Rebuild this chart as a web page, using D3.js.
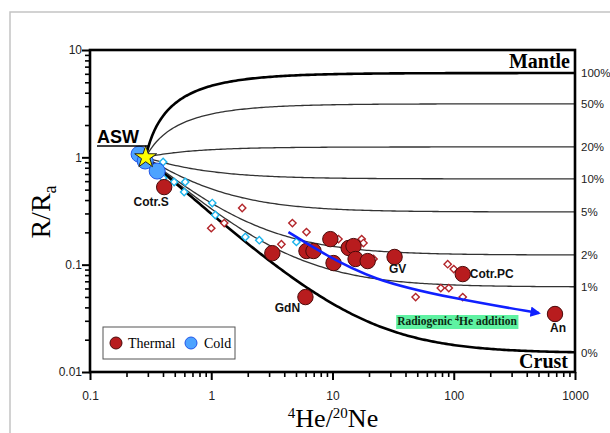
<!DOCTYPE html>
<html>
<head>
<meta charset="utf-8">
<title>R/Ra vs 4He/20Ne</title>
<style>
body { margin: 0; background: #fff; }
svg { display: block; }
.tick text { font-family: "Liberation Sans", Arial, sans-serif; font-size: 12px; fill: #222; }
.lbl { font-family: "Liberation Sans", Arial, sans-serif; font-weight: bold; font-size: 12px; fill: #111; }
.serif { font-family: "Liberation Serif", "Times New Roman", serif; }
</style>
</head>
<body>
<script src="https://cdn.jsdelivr.net/npm/d3@7"></script>
<script>
// ASW end-member
var aswX = 0.288, aswR = 1;

// mixing lines: R/Ra of the radiogenic end-member (mantle share)
var mixEnd = [6.1, 3.15, 1.25, 0.63, 0.31, 0.123, 0.062, 0.015];
var mixLabels = ["100%", "50%", "20%", "10%", "5%", "2%", "1%", "0%"];

// thermal waters (red circles)
var thermX = [0.409, 3.19, 5.98, 6.1, 6.97, 9.6, 10.2, 13.6, 14.9, 15.5, 19.5, 32.5, 118.6, 684];
var thermR = [0.528, 0.128, 0.0499, 0.134, 0.134, 0.173, 0.1035, 0.143, 0.149, 0.113, 0.108, 0.118, 0.0817, 0.0347];
var thermName = ["Cotr.S", "", "GdN", "", "", "", "", "", "", "", "", "GV", "Cotr.PC", "An"];

// cold waters (blue circles)
var coldX = [0.254, 0.285, 0.358];
var coldR = [1.07, 0.924, 0.745];

// literature data, cold (cyan diamonds)
var litColdX = [0.401, 0.401, 0.494, 0.61, 0.598, 1.02, 1.08, 1.91, 2.49, 5.04];
var litColdR = [0.904, 0.641, 0.589, 0.589, 0.475, 0.375, 0.29, 0.181, 0.169, 0.163];

// literature data, thermal (red diamonds)
var litThermX = [1.8, 1.0, 1.28, 4.67, 6.1, 3.79, 11.2, 17.4, 18.0, 21.8, 89.1, 100, 78.2, 91.0, 48.5, 118.6];
var litThermR = [0.337, 0.219, 0.244, 0.244, 0.201, 0.155, 0.173, 0.173, 0.159, 0.113, 0.101, 0.091, 0.0605, 0.0605, 0.0499, 0.0499];

// radiogenic 4He arrow
var arrowX = [4.33, 7.96, 21.4, 94.4, 503];
var arrowR = [0.201, 0.131, 0.0718, 0.0489, 0.0354];

var xTicks = [0.1, 1, 10, 100, 1000];
var xTickLabels = ["0.1", "1", "10", "100", "1000"];
var yTicks = [0.01, 0.1, 1, 10];
var yTickLabels = ["0.01", "0.1", "1", "10"];

var width = 610, height = 433;
var plotLeft = 90, plotRight = 575, plotTop = 50, plotBottom = 372;

var svg = d3.select("body").append("svg")
    .attr("width", width)
    .attr("height", height);

// grey outer frame
svg.append("rect")
    .attr("x", 10).attr("y", 12)
    .attr("width", 620).attr("height", 440)
    .attr("fill", "none")
    .attr("stroke", "#c4c4c4")
    .attr("stroke-width", 1.5);

var x = d3.scaleLog().domain([0.1, 1000]).range([plotLeft, plotRight]);
var y = d3.scaleLog().domain([0.01, 10]).range([plotBottom, plotTop]);

function minors(lo, hi) {
  var out = [];
  for (var e = lo; e < hi; e++) {
    for (var k = 2; k <= 9; k++) out.push(k * Math.pow(10, e));
  }
  return out;
}

// minor ticks
svg.append("g")
    .attr("transform", "translate(0," + plotBottom + ")")
    .call(d3.axisBottom(x).tickValues(minors(-1, 3)).tickSize(5).tickSizeOuter(0).tickFormat(""))
    .call(function(g) { g.select(".domain").remove(); })
    .selectAll("line").attr("stroke", "#000").attr("stroke-width", 1.6);

svg.append("g")
    .attr("transform", "translate(" + plotLeft + ",0)")
    .call(d3.axisLeft(y).tickValues(minors(-2, 1)).tickSize(5).tickSizeOuter(0).tickFormat(""))
    .call(function(g) { g.select(".domain").remove(); })
    .selectAll("line").attr("stroke", "#000").attr("stroke-width", 1.6);

// major ticks + labels
var xAxis = svg.append("g")
    .attr("transform", "translate(0," + plotBottom + ")")
    .call(d3.axisBottom(x).tickValues(xTicks).tickSize(8).tickSizeOuter(0).tickPadding(11)
      .tickFormat(function(d, i) { return xTickLabels[i]; }));
xAxis.select(".domain").remove();
xAxis.selectAll("line").attr("stroke", "#000").attr("stroke-width", 2);

var yAxis = svg.append("g")
    .attr("transform", "translate(" + plotLeft + ",0)")
    .call(d3.axisLeft(y).tickValues(yTicks).tickSize(8).tickSizeOuter(0).tickPadding(0)
      .tickFormat(function(d, i) { return yTickLabels[i]; }));
yAxis.select(".domain").remove();
yAxis.selectAll("line").attr("stroke", "#000").attr("stroke-width", 2);

// mixing curves
var gridX = [];
for (var i = 0; i <= 200; i++) {
  gridX.push(Math.pow(10, Math.log10(aswX) + (Math.log10(1000) - Math.log10(aswX)) * i / 200));
}
var line = d3.line()
    .x(function(d) { return x(d[0]); })
    .y(function(d) { return y(d[1]); });

mixEnd.forEach(function(re, i) {
  var pts = gridX.map(function(v) { return [v, re + (aswR - re) * aswX / v]; });
  var thick = (i == 0 || i == mixEnd.length - 1);
  svg.append("path")
      .attr("d", line(pts))
      .attr("fill", "none")
      .attr("stroke", thick ? "#000" : "#333")
      .attr("stroke-width", thick ? 2.6 : 1.3);
  svg.append("text")
      .attr("x", plotRight + 6)
      .attr("y", y(re))
      .attr("dy", "0.35em")
      .style("font-family", "Liberation Sans, Arial, sans-serif")
      .style("font-size", "11.5px")
      .style("fill", "#222")
      .text(mixLabels[i]);
});

// plot frame
svg.append("rect")
    .attr("x", plotLeft).attr("y", plotTop)
    .attr("width", plotRight - plotLeft).attr("height", plotBottom - plotTop)
    .attr("fill", "none")
    .attr("stroke", "#000")
    .attr("stroke-width", 2.6);

// diamonds
var diamond = d3.symbol().type(d3.symbolSquare).size(27);
svg.append("g").selectAll("path")
    .data(litColdX.map(function(v, i) { return [v, litColdR[i]]; }))
    .enter().append("path")
    .attr("d", diamond)
    .attr("transform", function(d) { return "translate(" + x(d[0]) + "," + y(d[1]) + ") rotate(45)"; })
    .attr("fill", "#fff")
    .attr("stroke", "#1cb4ec")
    .attr("stroke-width", 1.4);

svg.append("g").selectAll("path")
    .data(litThermX.map(function(v, i) { return [v, litThermR[i]]; }))
    .enter().append("path")
    .attr("d", diamond)
    .attr("transform", function(d) { return "translate(" + x(d[0]) + "," + y(d[1]) + ") rotate(45)"; })
    .attr("fill", "#fff")
    .attr("stroke", "#b3262b")
    .attr("stroke-width", 1.4);

// cold circles
svg.append("g").selectAll("circle")
    .data(coldX.map(function(v, i) { return [v, coldR[i]]; }))
    .enter().append("circle")
    .attr("cx", function(d) { return x(d[0]); })
    .attr("cy", function(d) { return y(d[1]); })
    .attr("r", 8)
    .attr("fill", "#4da3ff")
    .attr("stroke", "#2155e8")
    .attr("stroke-width", 1);

// thermal circles
var therm = thermX.map(function(v, i) { return {x: v, r: thermR[i], name: thermName[i]}; });
svg.append("g").selectAll("circle")
    .data(therm)
    .enter().append("circle")
    .attr("cx", function(d) { return x(d.x); })
    .attr("cy", function(d) { return y(d.r); })
    .attr("r", 7.7)
    .attr("fill", "#b81c1e")
    .attr("stroke", "#4a0a0a")
    .attr("stroke-width", 1);

// site labels
var labelOffset = {"Cotr.S": [-13, 19], "GdN": [-18, 15], "GV": [3, 16], "Cotr.PC": [7, 0], "An": [3, 18]};
therm.filter(function(d) { return d.name; }).forEach(function(d) {
  var o = labelOffset[d.name];
  svg.append("text")
      .attr("class", "lbl")
      .attr("x", x(d.x) + o[0])
      .attr("y", y(d.r) + o[1])
      .attr("text-anchor", d.name == "Cotr.PC" ? "start" : "middle")
      .attr("dy", d.name == "Cotr.PC" ? "0.35em" : 0)
      .text(d.name);
});

// ASW star
svg.append("path")
    .attr("d", d3.symbol().type(d3.symbolStar).size(150))
    .attr("transform", "translate(" + x(aswX) + "," + y(aswR) + ")")
    .attr("fill", "#ffff00")
    .attr("stroke", "#222")
    .attr("stroke-width", 1);

svg.append("text")
    .attr("x", 97).attr("y", 143)
    .style("font-family", "Liberation Sans, Arial, sans-serif")
    .style("font-weight", "bold")
    .style("font-size", "18px")
    .text("ASW");
svg.append("line")
    .attr("x1", 97).attr("x2", x(aswX) + 3)
    .attr("y1", 146).attr("y2", 146)
    .attr("stroke", "#000").attr("stroke-width", 1.3);

// radiogenic arrow
svg.append("defs").append("marker")
    .attr("id", "head")
    .attr("viewBox", "0 0 10 10")
    .attr("refX", 8).attr("refY", 5)
    .attr("markerWidth", 4).attr("markerHeight", 4)
    .attr("orient", "auto")
    .append("path")
    .attr("d", "M0,0L10,5L0,10Z")
    .attr("fill", "#1020ff");

svg.append("path")
    .attr("d", d3.line().curve(d3.curveBasis)
        .x(function(d) { return x(d[0]); })
        .y(function(d) { return y(d[1]); })(arrowX.map(function(v, i) { return [v, arrowR[i]]; })))
    .attr("fill", "none")
    .attr("stroke", "#1020ff")
    .attr("stroke-width", 2.6)
    .attr("marker-end", "url(#head)");

var note = svg.append("text")
    .attr("class", "serif")
    .attr("x", 457).attr("y", 325)
    .attr("text-anchor", "middle")
    .style("font-weight", "bold")
    .style("font-size", "11.5px")
    .style("fill", "#0b2a12");
note.append("tspan").text("Radiogenic ");
note.append("tspan").attr("dy", -4).style("font-size", "8px").text("4");
note.append("tspan").attr("dy", 4).text("He addition");
var bb = note.node().getBBox();
svg.insert("rect", function() { return note.node(); })
    .attr("x", bb.x - 1).attr("y", 315)
    .attr("width", bb.width + 2).attr("height", 14)
    .attr("fill", "#5ff2a2");

// Mantle / Crust
svg.append("text").attr("class", "serif")
    .attr("x", 570).attr("y", 68).attr("text-anchor", "end")
    .style("font-weight", "bold").style("font-size", "20px")
    .text("Mantle");
svg.append("text").attr("class", "serif")
    .attr("x", 568).attr("y", 368).attr("text-anchor", "end")
    .style("font-weight", "bold").style("font-size", "20px")
    .text("Crust");

// legend
svg.append("rect")
    .attr("x", 103).attr("y", 327)
    .attr("width", 132).attr("height", 32)
    .attr("fill", "#fff").attr("stroke", "#555").attr("stroke-width", 1);
svg.append("circle").attr("cx", 116).attr("cy", 343).attr("r", 6)
    .attr("fill", "#b81c1e").attr("stroke", "#4a0a0a");
svg.append("text").attr("class", "serif")
    .attr("x", 128).attr("y", 348).style("font-size", "14px").text("Thermal");
svg.append("circle").attr("cx", 191).attr("cy", 343).attr("r", 6)
    .attr("fill", "#4da3ff").attr("stroke", "#2155e8");
svg.append("text").attr("class", "serif")
    .attr("x", 204).attr("y", 348).style("font-size", "14px").text("Cold");

// axis titles
var xt = svg.append("text").attr("class", "serif")
    .attr("x", 333).attr("y", 427)
    .attr("text-anchor", "middle")
    .style("font-size", "26px");
xt.append("tspan").attr("dy", -9).style("font-size", "15px").text("4");
xt.append("tspan").attr("dy", 9).text("He/");
xt.append("tspan").attr("dy", -9).style("font-size", "15px").text("20");
xt.append("tspan").attr("dy", 9).text("Ne");

var yt = svg.append("text").attr("class", "serif")
    .attr("transform", "translate(50,212) rotate(-90)")
    .attr("text-anchor", "middle")
    .style("font-size", "28px");
yt.append("tspan").text("R/R");
yt.append("tspan").attr("dy", 6).style("font-size", "18px").text("a");
</script>
</body>
</html>
